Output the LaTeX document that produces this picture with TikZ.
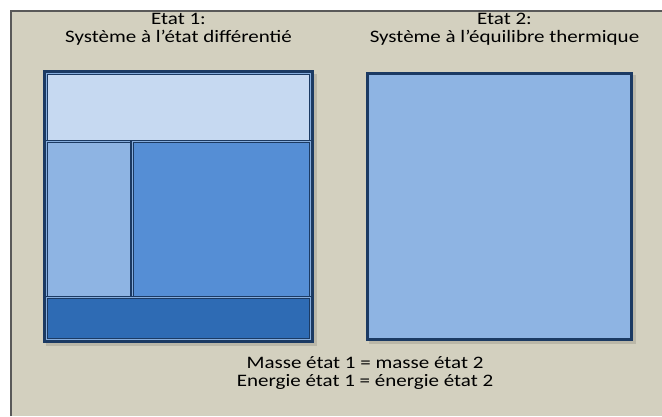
\documentclass[tikz,border=0pt]{standalone}
\usepackage{fontspec}
\setmainfont{Carlito}[FakeStretch=1.2]
\usepackage{tikz}
\usetikzlibrary{backgrounds,calc}
\definecolor{fond}{HTML}{D3D0BF}
\definecolor{cadre}{HTML}{1B3A63}
\definecolor{filet}{HTML}{86ADDD}
\definecolor{bleuclair}{HTML}{C6D9F1}
\definecolor{bleumoyen}{HTML}{8EB4E3}
\definecolor{bleu}{HTML}{558ED5}
\definecolor{bleufonce}{HTML}{2E6BB4}
\tikzset{
  zone/.style={draw=cadre, line width=1.3pt, double=filet, double distance=1.2pt},
  ombre/.style={fill=fond!88!black},
  texte/.style={font=\fontsize{17.5}{18}\selectfont, align=center, inner sep=0pt}
}

\begin{document}
\begin{tikzpicture}[x=1pt,y=1pt]
\useasboundingbox (0,0) rectangle (662,-416);
\fill[white] (0,0) rectangle (662,-416);
\fill[fond] (11,-11) rectangle (662,-416);
\draw[black!65, line width=1.2pt] (11,-416) -- (11,-11) -- (662,-11);
% ombres
\fill[ombre] (46,-74) rectangle (317,-346);
\fill[ombre] (369,-75) rectangle (636,-344);
% Etat 1
\fill[zone, fill=bleuclair] (46.3,-73.3) rectangle (310.7,-141.5);
\fill[zone, fill=bleumoyen] (46.3,-141.5) rectangle (132.3,-297.5);
\fill[zone, fill=bleu] (132.3,-141.5) rectangle (310.7,-297.5);
\fill[zone, fill=bleufonce] (46.3,-297.5) rectangle (310.7,-339.7);
\draw[cadre, line width=2.4pt] (44.2,-71.2) rectangle (312.8,-341.8);
% Etat 2
\draw[cadre, line width=2.6pt, fill=bleumoyen] (367.3,-73.3) rectangle (631.7,-339.7);
% textes
\node[texte] (titre1) at (178.5,-29.5) {Etat 1:\\Système à l’état différentié};
\node[texte] (titre2) at (504.5,-29.5) {Etat 2:\\Système à l’équilibre thermique};
\node[texte] (bilan) at (365,-373) {Masse état 1 = masse état 2\\Energie état 1 = énergie état 2};
\end{tikzpicture}
\end{document}
